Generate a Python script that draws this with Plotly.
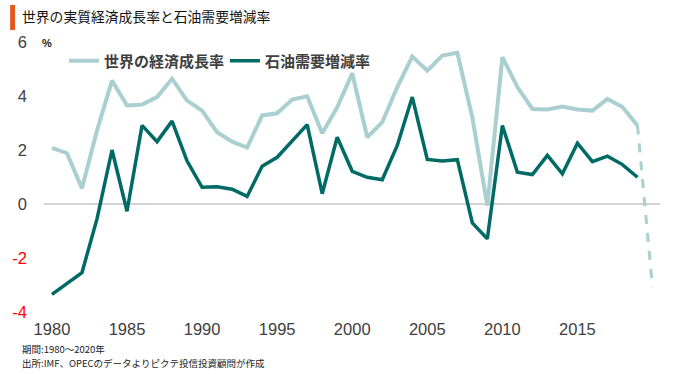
import plotly.graph_objects as go

years = list(range(1980, 2020))
gdp_growth = [2.08, 1.88, 0.58, 2.72, 4.57, 3.65, 3.68, 3.96, 4.64, 3.83,
              3.46, 2.66, 2.31, 2.09, 3.28, 3.36, 3.87, 3.99, 2.62, 3.58,
              4.84, 2.47, 3.03, 4.33, 5.46, 4.94, 5.50, 5.60, 3.21, -0.06,
              5.44, 4.33, 3.52, 3.50, 3.61, 3.50, 3.46, 3.89, 3.59, 2.91]
oil_demand = [-3.35, -2.96, -2.54, -0.55, 2.00, -0.27, 2.91, 2.31, 3.07, 1.59,
              0.62, 0.64, 0.55, 0.28, 1.40, 1.73, 2.33, 2.94, 0.38, 2.47,
              1.21, 0.99, 0.90, 2.17, 3.96, 1.65, 1.59, 1.64, -0.70, -1.29,
              2.91, 1.18, 1.09, 1.80, 1.12, 2.25, 1.57, 1.77, 1.46, 0.99]
forecast_years = [2019, 2020]
gdp_forecast = [2.91, -3.08]

x_ticks = [1980, 1985, 1990, 1995, 2000, 2005, 2010, 2015]
y_ticks = [-4, -2, 0, 2, 4, 6]

name_gdp = "世界の経済成長率"
name_oil = "石油需要増減率"
title_text = "世界の実質経済成長率と石油需要増減率"
note1 = "期間:1980～2020年"
note2 = "出所:IMF、OPECのデータよりピクテ投信投資顧問が作成"

W, H = 680, 374
L, R, T, B = 42, 20, 42, 62
pw, ph = W - L - R, H - T - B

def px(x):
    return (x - L) / pw

def py(y):
    return (H - B - y) / ph

light = "#a9cfd0"
dark = "#006b64"
txt = "#404040"
cjk = "Noto Sans CJK JP, sans-serif"
num = "Liberation Sans Narrow, Liberation Sans, Arial, sans-serif"

fig = go.Figure()
fig.add_trace(go.Scatter(x=years, y=gdp_growth, mode="lines", name=name_gdp,
                         line=dict(color=light, width=4)))
fig.add_trace(go.Scatter(x=years, y=oil_demand, mode="lines", name=name_oil,
                         line=dict(color=dark, width=3.5)))
fig.add_trace(go.Scatter(x=forecast_years, y=gdp_forecast, mode="lines",
                         showlegend=False, line=dict(color=light, width=3, dash="dash")))

def ytext(v):
    if v < 0:
        return f"<span style='color:#ff0000'>{v}</span>"
    return str(v)

fig.update_layout(
    width=W, height=H,
    margin=dict(l=L, r=R, t=T, b=B),
    paper_bgcolor="white", plot_bgcolor="white",
    showlegend=True,
    legend=dict(orientation="h", x=px(62), y=py(61), xanchor="left", yanchor="middle",
                font=dict(family=cjk, size=15, color=txt, weight="bold"),
                bgcolor="rgba(0,0,0,0)", itemwidth=30, tracegroupgap=0,
                entrywidth=116, entrywidthmode="pixels"),
    xaxis=dict(range=[1979.47, 2020.5], tickvals=x_ticks,
               ticktext=[str(v) for v in x_ticks],
               showgrid=False, zeroline=False, showline=False,
               tickfont=dict(family=num, size=16.5, color=txt),
               ticks="", ticklabelstandoff=5, fixedrange=True),
    yaxis=dict(range=[-4, 6], tickvals=y_ticks, ticktext=[ytext(v) for v in y_ticks],
               showgrid=False, zeroline=True, zerolinecolor="#d3d3d3", zerolinewidth=1.5,
               showline=False, tickfont=dict(family=num, size=16.5, color=txt),
               ticks="", ticklabelstandoff=16, fixedrange=True),
    title=dict(text=title_text, x=22 / W, y=1 - 17 / H, xanchor="left", yanchor="middle",
               xref="container", yref="container",
               font=dict(family=cjk, size=13.8, color="#111111")),
)

fig.add_shape(type="rect", xref="paper", yref="paper",
              x0=px(8), x1=px(13), y0=py(30), y1=py(5),
              fillcolor="#e2581f", line=dict(width=0), layer="above")

fig.add_annotation(text="%", xref="paper", yref="paper", x=px(45), y=py(43),
                   xanchor="center", yanchor="middle", showarrow=False,
                   font=dict(family=num, size=11, color="#222222", weight="bold"))
fig.add_annotation(text=note1, xref="paper", yref="paper", x=px(18), y=py(349),
                   xanchor="left", yanchor="middle", showarrow=False,
                   font=dict(family=cjk, size=9.5, color="#222222"))
fig.add_annotation(text=note2, xref="paper", yref="paper", x=px(18), y=py(362.5),
                   xanchor="left", yanchor="middle", showarrow=False,
                   font=dict(family=cjk, size=9.5, color="#222222"))

fig.write_html("out.html", config={"displayModeBar": False},
               post_script="document.body.style.margin='0';document.body.style.overflow='hidden';")
